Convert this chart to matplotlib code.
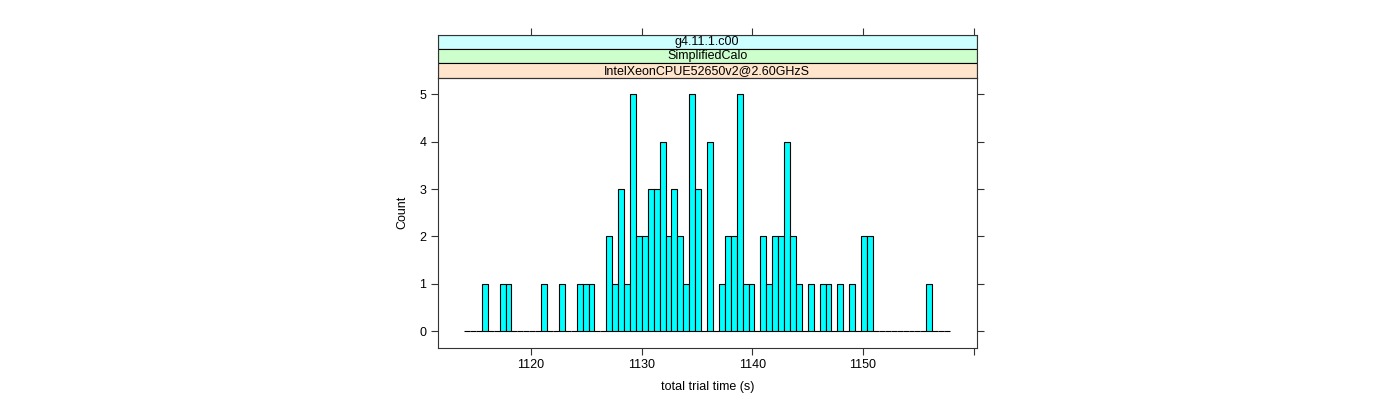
import matplotlib
matplotlib.use('Agg')
import matplotlib.pyplot as plt
import numpy as np

# histogram of total trial time, 82 equal bins
bin_start = 1113.97
bin_end = 1157.85
counts = [0, 0, 0, 1, 0, 0, 1, 1, 0, 0,
          0, 0, 0, 1, 0, 0, 1, 0, 0, 1,
          1, 1, 0, 0, 2, 1, 3, 1, 5, 2,
          2, 3, 3, 4, 2, 3, 2, 1, 5, 3,
          0, 4, 0, 1, 2, 2, 5, 1, 1, 0,
          2, 1, 2, 2, 4, 2, 1, 0, 1, 0,
          1, 1, 0, 1, 0, 1, 0, 2, 2, 0,
          0, 0, 0, 0, 0, 0, 0, 0, 1, 0,
          0, 0]

strip_labels = ['g4.11.1.c00', 'SimplifiedCalo', 'IntelXeonCPUE52650v2@2.60GHzS']
strip_colors = ['#ccffff', '#ccffcc', '#ffe5cc']
x_ticks = [1120, 1130, 1140, 1150, 1160]
x_ticklabels = ['1120', '1130', '1140', '1150', '']
y_ticks = [0, 1, 2, 3, 4, 5]

plt.rcParams['font.family'] = ['Liberation Sans', 'DejaVu Sans']
plt.rcParams['font.size'] = 9

fig = plt.figure(figsize=(14, 4), dpi=100)

left, right = 437.5 / 1400, 977 / 1400
bottom, top = 1 - 347.7 / 400, 1 - 77.7 / 400
strip_top = 1 - 35 / 400

ax = fig.add_axes([left, bottom, right - left, top - bottom])
sax = fig.add_axes([left, top, right - left, strip_top - top])

edges = np.linspace(bin_start, bin_end, len(counts) + 1)
width = edges[1] - edges[0]
ax.bar(edges[:-1], counts, width=width, align='edge', color='#00ffff',
       edgecolor='black', linewidth=0.8)

xlim = (1111.57, 1160.29)
ax.set_xlim(xlim)
ax.set_ylim(-0.35, 5.35)
ax.set_xticks(x_ticks)
ax.set_xticklabels(x_ticklabels)
ax.set_yticks(y_ticks)
ax.tick_params(direction='out', length=5, width=0.8, color='#333333',
               right=True, top=False, pad=3)
for s in ax.spines.values():
    s.set_color('#333333')
    s.set_linewidth(0.8)
ax.set_xlabel('total trial time (s)', labelpad=7)
ax.set_ylabel('Count', labelpad=8)

# strips above the panel
sax.set_xlim(xlim)
sax.set_ylim(0, 3)
for i, (lab, col) in enumerate(zip(strip_labels, strip_colors)):
    y0 = 2 - i
    sax.add_patch(plt.Rectangle((xlim[0], y0), xlim[1] - xlim[0], 1,
                                facecolor=col, edgecolor='black', linewidth=0.8))
    sax.text(sum(xlim) / 2, y0 + 0.5, lab, ha='center', va='center')
sax.set_xticks(x_ticks)
sax.set_yticks([])
sax.tick_params(axis='x', direction='out', length=5, width=0.8, color='#333333',
                top=True, bottom=False, labeltop=False, labelbottom=False)
for s in sax.spines.values():
    s.set_color('#333333')
    s.set_linewidth(0.8)

fig.savefig('out.png', dpi=100)
